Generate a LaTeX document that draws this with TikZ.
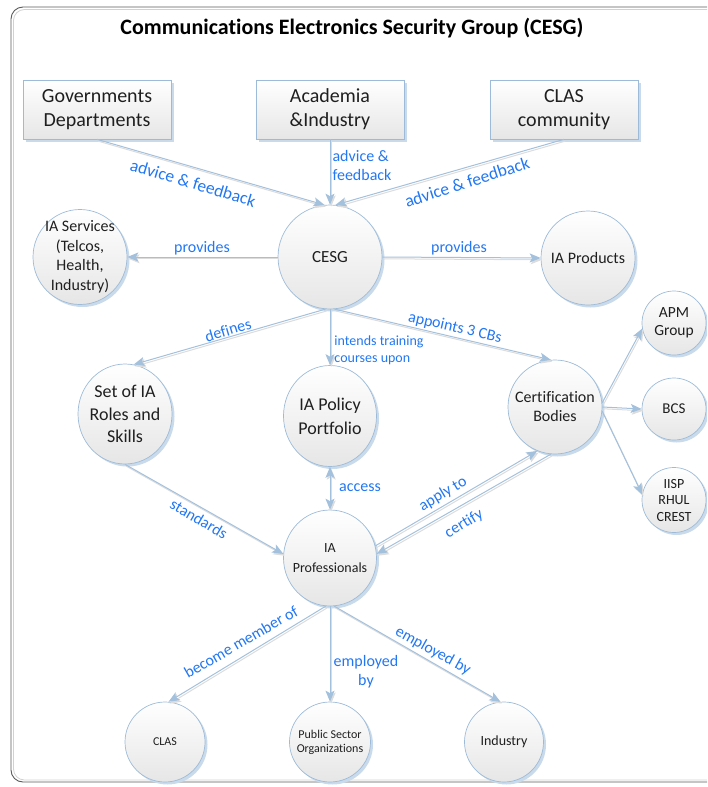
\documentclass[tikz,border=0pt]{standalone}
\usepackage{fontspec}
\setmainfont{Carlito}[Ligatures=NoCommon]
\usetikzlibrary{shapes.geometric,shadows,arrows.meta}
\definecolor{edgeblue}{HTML}{A3C0DD}
\definecolor{edgeshade}{HTML}{DCDCDC}
\definecolor{nodeborder}{HTML}{9DBBD8}
\definecolor{nodeshade}{HTML}{C9DAEB}
\definecolor{nodebottom}{HTML}{E6E6E6}
\definecolor{lblblue}{HTML}{2277F2}
\definecolor{framegray}{HTML}{5A5A5A}
\newcommand\fsz[2]{\fontsize{#1}{#2}\selectfont}
\begin{document}
\begin{tikzpicture}[x=1pt,y=-1pt,
  mytip/.tip={Stealth[length=11pt,width=9pt,inset=2.5pt]},
  blob/.style={ellipse, draw=nodeborder, line width=0.7pt, top color=white, bottom color=nodebottom, inner sep=0pt,
    drop shadow={shadow xshift=2.5pt, shadow yshift=-2.5pt, fill=nodeshade, opacity=1}},
  srcbox/.style={rectangle, draw=nodeborder, line width=0.7pt, top color=white, bottom color=nodebottom,
    minimum width=148pt, minimum height=59pt, align=center, font=\fsz{20}{24}, text=black!88,
    drop shadow={shadow xshift=3pt, shadow yshift=-3pt, fill=nodeshade, opacity=1}},
  ntext/.style 2 args={align=center, font=\fsz{#1}{#2}, text=black!88, inner sep=0pt},
  conn/.style={draw=edgeblue, line width=1pt, -mytip,
    preaction={draw=edgeshade, line width=1pt, transform canvas={xshift=1.2pt,yshift=-1.8pt}}},
  lbl/.style={text=lblblue, font=\fsz{16}{19}, inner sep=0pt},
  biglbl/.style={lbl, font=\fsz{17.5}{20}}
]
\path[use as bounding box] (0,0) rectangle (707,787);
\clip (0,0) rectangle (707,787);
\draw[black!18, line width=0.8pt, rounded corners=11pt] (13.5,9.5) rectangle (730,780);
\draw[framegray, line width=0.9pt, rounded corners=12pt] (11,7) rectangle (730,782);

\node[font=\bfseries\fsz{22}{26}, text=black] (title) at (352,28) {Communications Electronics Security Group (CESG)};

% source boxes
\node[srcbox] (gov) at (97,109.5) {Governments\\Departments};
\node[srcbox] (acad) at (330,109.5) {Academia\\\&Industry};
\node[srcbox] (clascomm) at (564,109.5) {CLAS\\community};

% circles
\node[blob, minimum width=104pt, minimum height=104pt, label={[ntext={17}{20}]center:CESG}] (cesg) at (330,257) {};
\node[blob, minimum width=94pt, minimum height=95pt, label={[ntext={16}{19.5}]center:{IA Services\\(Telcos,\\Health,\\Industry)}}] (iaserv) at (80,257) {};
\node[blob, minimum width=94pt, minimum height=94pt, label={[ntext={16}{19}]center:IA Products}] (iaprod) at (588,258) {};
\node[blob, minimum width=64pt, minimum height=64pt, label={[ntext={15.5}{18}]center:{APM\\Group}}] (apm) at (674,323) {};
\node[blob, minimum width=94pt, minimum height=100pt, label={[ntext={18}{22.5}]center:{Set of IA\\Roles and\\Skills}}] (roles) at (125,414) {};
\node[blob, minimum width=93pt, minimum height=101pt, label={[ntext={18}{24}]center:{IA Policy\\Portfolio}}] (policy) at (330,416) {};
\node[blob, minimum width=94pt, minimum height=94pt, label={[ntext={16}{19}]center:{Certification\\Bodies}}] (cert) at (555,407) {};
\node[blob, minimum width=64pt, minimum height=62pt, label={[ntext={15}{18}]center:BCS}] (bcs) at (674,409) {};
\node[blob, minimum width=64pt, minimum height=65pt, label={[ntext={14}{16.5}]center:{IISP\\RHUL\\CREST}}] (iisp) at (674,500) {};
\node[blob, minimum width=93pt, minimum height=96pt, label={[ntext={14}{20}]center:{IA\\Professionals}}] (prof) at (330,558) {};
\node[blob, minimum width=80pt, minimum height=80pt, label={[ntext={12}{14}]center:CLAS}] (clas) at (165,742) {};
\node[blob, minimum width=81pt, minimum height=80pt, label={[ntext={12}{14}]center:{Public Sector\\Organizations}}] (pso) at (330,742) {};
\node[blob, minimum width=79pt, minimum height=80pt, label={[ntext={14}{16}]center:Industry}] (industry) at (504,742) {};

% connectors
\draw[conn] (gov.south) -- (cesg.96);
\draw[conn] (acad.south) -- (cesg.north);
\draw[conn] (clascomm.south) -- (cesg.84);
\draw[conn] (cesg.west) -- (iaserv.east);
\draw[conn] (cesg.east) -- (iaprod.west);
\draw[conn] (cesg.265) -- (roles.80);
\draw[conn] (cesg.south) -- (policy.north);
\draw[conn] (cesg.275) -- (cert.95);
\draw[conn] (cert.5) -- (apm.190);
\draw[conn] (cert.east) -- (bcs.west);
\draw[conn] (cert.-5) -- (iisp.170);
\draw[conn] (roles.south) -- (prof.175);
\draw[conn, mytip-mytip] (policy.south) -- (prof.north);
\draw[conn] (prof.15) -- (cert.248);
\draw[conn] (cert.265) -- (prof.5);
\draw[conn] (prof.265) -- (clas.85);
\draw[conn] (prof.south) -- (pso.north);
\draw[conn] (prof.275) -- (industry.95);

% labels
\node[biglbl, rotate=-16.6] (l1) at (193,183) {advice \& feedback};
\node[lbl, align=left] (l2) at (362,166) {advice \&\\feedback};
\node[biglbl, rotate=17.8] (l3) at (467,182) {advice \& feedback};
\node[lbl] (l4) at (202,248) {provides};
\node[lbl] (l5) at (459,248) {provides};
\node[lbl, rotate=16.5] (l6) at (228,330) {defines};
\node[lbl, align=left, font=\fsz{14}{17}] (l7) at (379,350) {intends training\\courses upon};
\node[lbl, rotate=-13] (l8) at (455,328) {appoints 3 CBs};
\node[lbl, rotate=-30.5] (l9) at (199,519) {standards};
\node[lbl] (l10) at (360,488) {access};
\node[lbl, rotate=31] (l11) at (443,494) {apply to};
\node[lbl, rotate=31] (l12) at (464,524) {certify};
\node[lbl, rotate=30] (l13) at (241,642) {become member of};
\node[lbl, align=center] (l14) at (366,672) {employed\\by};
\node[lbl, rotate=-29] (l15) at (433,651) {employed by};
\end{tikzpicture}
\end{document}
